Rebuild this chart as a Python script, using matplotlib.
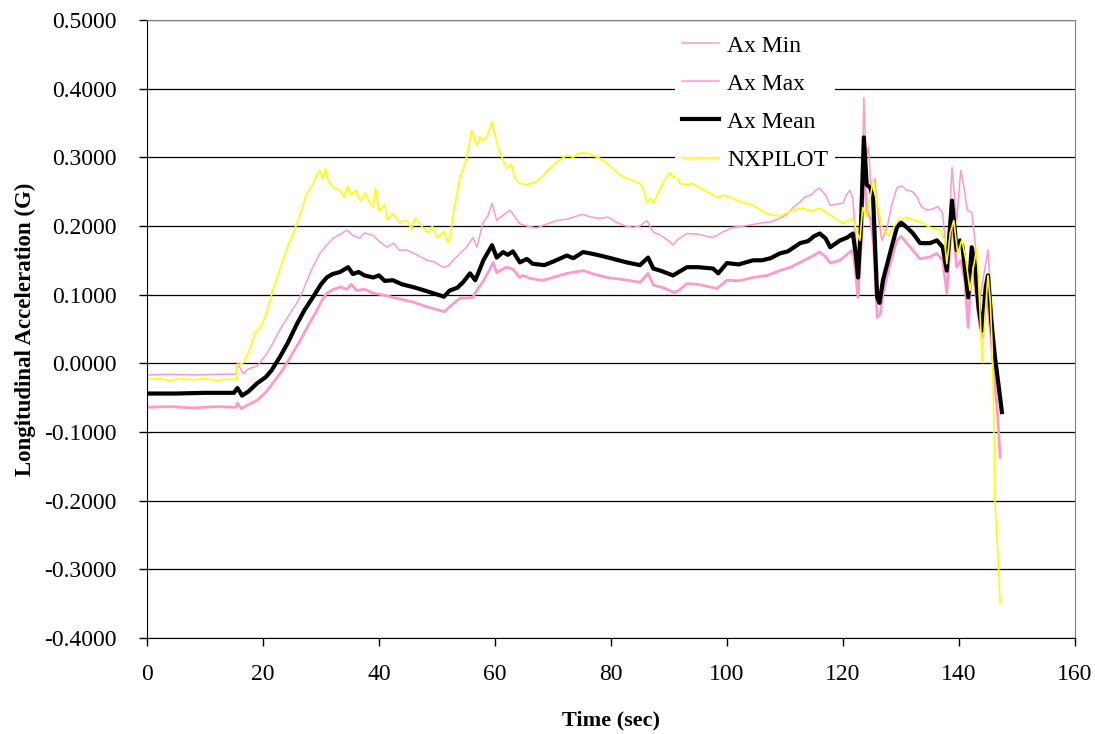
import matplotlib
matplotlib.use("Agg")
import matplotlib.pyplot as plt

plt.rcParams['font.family'] = ['Liberation Serif', 'DejaVu Serif']
plt.rcParams['axes.unicode_minus'] = False

# NXPILOT (yellow)
t_pilot = [0, 2, 4, 6, 8, 10, 12, 14, 15.4, 15.6, 16.5, 17.5, 18.6, 19.5, 20.5, 21.7, 23, 24.5, 25.9,
           27.6, 28.7, 29.3, 29.8, 30.3, 30.8, 31.3, 32, 33.3, 34, 34.6, 35.2, 36, 36.8, 37.6, 38.5,
           39, 39.4, 40, 41, 41.4, 42.5, 43.5, 44.8, 45.6, 46.3, 47.6, 48.5, 49.2, 50, 50.5, 51.2,
           51.9, 52.3, 52.8, 54, 55, 56, 56.9, 57.4, 57.9, 58.6, 59.5, 60.5, 61.3, 62, 62.8, 63.5,
           64.3, 65.5, 67.2, 68.5, 69.5, 71, 72.4, 73.5, 74.5, 75.9, 77, 78, 79.5, 81, 82.5, 83.8,
           85, 85.5, 86.2, 86.8, 87.3, 88.5, 89.5, 90.2, 90.8, 91.2, 91.9, 93, 94, 95.3, 96.5, 98.3,
           99.5, 101, 102.5, 104.5, 106.9, 109.1, 110.5, 111.4, 113, 114.5, 116, 117, 118.3, 120,
           120.8, 121.7, 122.3, 122.9, 123.4, 124.1, 125.2, 125.8, 126.7, 127.8, 128.5, 129.5, 131,
           133.3, 135, 136.7, 137.5, 137.9, 138.5, 139.1, 139.8, 140.5, 141.2, 141.9, 142.5, 143.1,
           143.6, 144, 144.5, 145, 145.4, 145.7, 146, 146.2, 146.7, 147.1]
nxpilot = [-0.024, -0.022, -0.025, -0.022, -0.024, -0.022, -0.025, -0.023, -0.024, -0.002, 0.000,
           0.015, 0.044, 0.052, 0.070, 0.106, 0.140, 0.175, 0.204, 0.248, 0.262, 0.275, 0.280,
           0.268, 0.283, 0.265, 0.257, 0.252, 0.242, 0.258, 0.245, 0.252, 0.236, 0.248, 0.232,
           0.227, 0.255, 0.222, 0.232, 0.210, 0.218, 0.205, 0.208, 0.196, 0.212, 0.197, 0.190,
           0.200, 0.183, 0.186, 0.192, 0.176, 0.185, 0.218, 0.271, 0.295, 0.339, 0.317, 0.330,
           0.325, 0.330, 0.351, 0.315, 0.298, 0.284, 0.290, 0.268, 0.262, 0.260, 0.265, 0.275,
           0.285, 0.295, 0.303, 0.300, 0.306, 0.306, 0.302, 0.299, 0.290, 0.278, 0.270, 0.266,
           0.262, 0.256, 0.234, 0.240, 0.233, 0.255, 0.270, 0.278, 0.270, 0.275, 0.262, 0.260,
           0.262, 0.256, 0.250, 0.242, 0.245, 0.240, 0.235, 0.230, 0.218, 0.214, 0.220, 0.223,
           0.226, 0.222, 0.226, 0.220, 0.213, 0.204, 0.208, 0.211, 0.195, 0.179, 0.227, 0.213,
           0.266, 0.237, 0.198, 0.186, 0.195, 0.208, 0.212, 0.206, 0.198, 0.194, 0.180, 0.145,
           0.190, 0.208, 0.160, 0.180, 0.150, 0.106, 0.140, 0.169, 0.080, 0.001, 0.070, 0.128,
           0.090, 0.029, -0.080, -0.200, -0.277, -0.350]

# Ax Mean (black)
t_mean = [0, 5, 10, 15, 15.6, 16.4, 17.5, 19, 20.5, 21.5, 22.9, 24.3, 25.9, 27.2, 28.6, 30, 31, 32,
          33.3, 34.7, 35.5, 36.5, 37.5, 39, 40, 41, 42.4, 44, 45.9, 47.5, 49, 50.5, 51.2, 52.2,
          53.5, 54.5, 55.7, 56.6, 57.3, 58, 59.5, 60.3, 61.4, 62.2, 63.1, 64.3, 65.5, 66.5, 67.5,
          68.5, 70, 72.4, 73.5, 75.2, 76.5, 78.1, 80, 82.7, 85, 86.4, 87.3, 88.5, 90.7, 91.5, 93.1,
          95, 97.6, 98.5, 100, 102, 104.5, 106, 107.5, 109.1, 110.5, 112.6, 114, 115, 116, 117,
          117.8, 119.5, 120.7, 121.7, 122.2, 122.6, 123.1, 123.6, 124.1, 124.7, 125.2, 125.9,
          126.3, 126.9, 128.1, 129.3, 130, 131, 132, 133.3, 135, 136.2, 137.2, 137.9, 138.8,
          139.6, 140.2, 140.6, 141.6, 142.2, 142.8, 143.4, 144, 144.6, 145, 145.6, 146.2, 146.8,
          147.4]
ax_mean = [-0.044, -0.044, -0.043, -0.043, -0.036, -0.047, -0.041, -0.029, -0.020, -0.010, 0.009,
           0.030, 0.058, 0.078, 0.096, 0.115, 0.125, 0.130, 0.133, 0.140, 0.130, 0.133, 0.128,
           0.125, 0.128, 0.120, 0.121, 0.115, 0.111, 0.107, 0.103, 0.099, 0.097, 0.106, 0.110,
           0.118, 0.131, 0.121, 0.135, 0.150, 0.172, 0.154, 0.162, 0.158, 0.163, 0.147, 0.152,
           0.145, 0.144, 0.143, 0.148, 0.157, 0.153, 0.162, 0.160, 0.157, 0.153, 0.147, 0.143,
           0.154, 0.138, 0.135, 0.128, 0.132, 0.140, 0.140, 0.138, 0.131, 0.146, 0.144, 0.150,
           0.150, 0.153, 0.160, 0.163, 0.175, 0.178, 0.185, 0.189, 0.182, 0.169, 0.179, 0.183,
           0.189, 0.160, 0.125, 0.200, 0.329, 0.260, 0.256, 0.240, 0.096, 0.088, 0.121, 0.160,
           0.198, 0.205, 0.198, 0.190, 0.175, 0.175, 0.179, 0.169, 0.135, 0.237, 0.165, 0.179,
           0.170, 0.096, 0.169, 0.140, 0.080, 0.048, 0.110, 0.128, 0.060, 0.009, -0.030, -0.071]

# Ax Max (upper pink)
t_max = [0, 4, 8, 12, 15.4, 15.6, 16.6, 17.5, 19, 20.5, 21.7, 23, 24.7, 26, 26.9, 28.3, 29.8, 31,
         32.1, 33.3, 34.5, 35.5, 36.7, 37.5, 39, 40, 41.4, 42.5, 43.5, 44.8, 46.5, 48.3, 49.5, 51,
         52, 53, 54, 55, 56.2, 56.9, 57.9, 58.8, 59.5, 60.3, 61.3, 62.6, 63.3, 64.3, 65.5, 67.2,
         69, 70.7, 72.5, 75, 76.5, 78.1, 79.5, 81, 82.5, 83.8, 85, 86.2, 87.3, 88.5, 90, 90.7,
         91.5, 93.1, 95, 97.6, 99, 101, 103, 105.7, 107.5, 109.1, 110.5, 111.4, 112.5, 113.4,
         114.5, 115.3, 116, 117, 117.8, 119, 120, 120.6, 121.2, 121.7, 122.2, 122.6, 123.2, 123.6,
         124, 124.4, 124.8, 125.5, 126, 126.7, 127.6, 128.4, 129.3, 130.2, 131, 132, 132.8, 133.5,
         134.5, 135.5, 136.4, 137.2, 137.9, 138.3, 138.8, 139.6, 140.3, 140.8, 141.4, 142.2,
         142.8, 143.6, 144.3, 145, 145.7, 146.5, 147.1]
ax_max = [-0.017, -0.016, -0.017, -0.016, -0.016, 0.000, -0.015, -0.008, -0.004, 0.012, 0.029,
          0.050, 0.073, 0.090, 0.106, 0.135, 0.160, 0.172, 0.182, 0.188, 0.194, 0.186, 0.182,
          0.190, 0.186, 0.178, 0.169, 0.175, 0.165, 0.165, 0.158, 0.150, 0.148, 0.140, 0.142,
          0.152, 0.160, 0.168, 0.183, 0.169, 0.204, 0.215, 0.233, 0.208, 0.215, 0.223, 0.215,
          0.203, 0.200, 0.197, 0.203, 0.208, 0.210, 0.217, 0.213, 0.211, 0.213, 0.205, 0.200,
          0.198, 0.200, 0.208, 0.191, 0.187, 0.178, 0.172, 0.180, 0.189, 0.188, 0.183, 0.190,
          0.198, 0.200, 0.204, 0.206, 0.211, 0.218, 0.227, 0.234, 0.242, 0.245, 0.252, 0.255,
          0.245, 0.230, 0.232, 0.233, 0.245, 0.252, 0.240, 0.180, 0.096, 0.200, 0.387, 0.300,
          0.315, 0.260, 0.269, 0.220, 0.179, 0.198, 0.230, 0.256, 0.258, 0.252, 0.250, 0.242,
          0.228, 0.223, 0.225, 0.228, 0.218, 0.150, 0.200, 0.285, 0.208, 0.281, 0.260, 0.223,
          0.220, 0.175, 0.092, 0.130, 0.165, 0.077, -0.020, -0.060]

# Ax Min (lower pink)
t_min = [0, 4, 8, 12, 15.4, 15.6, 16.3, 17.5, 19, 20.5, 21.7, 23, 24.1, 25.2, 26.4, 28, 29.3, 30.2,
         31, 32, 33.3, 34.5, 35.2, 36.2, 37.5, 39, 40.5, 42.4, 44, 45.9, 48, 50.5, 51.2, 52.2, 53,
         54, 55, 56.2, 57, 58, 59, 59.7, 60.3, 60.9, 62, 63.1, 64.3, 64.8, 66, 67.2, 68.3, 70,
         72.4, 75.2, 77, 79.3, 82, 85, 86.4, 87.3, 89, 91, 92, 93.1, 95, 98.3, 100, 102, 104.5,
         107, 109.1, 111, 112.6, 114.5, 116, 117, 117.8, 119.5, 121.2, 121.7, 122.2, 122.6,
         123.3, 123.6, 124.1, 124.8, 125.3, 125.9, 126.4, 126.9, 128, 129.3, 130, 131, 132,
         133.3, 135, 136.2, 137.2, 137.9, 138.8, 139.6, 140.3, 141, 141.6, 142.2, 142.8, 143.5,
         144, 144.8, 145.5, 146.2, 146.7, 147.1]
ax_min = [-0.064, -0.063, -0.065, -0.063, -0.064, -0.058, -0.066, -0.060, -0.054, -0.042, -0.029,
          -0.014, 0.000, 0.016, 0.033, 0.058, 0.077, 0.092, 0.102, 0.107, 0.111, 0.108, 0.115,
          0.106, 0.108, 0.102, 0.100, 0.096, 0.093, 0.089, 0.083, 0.077, 0.075, 0.082, 0.088,
          0.095, 0.095, 0.096, 0.108, 0.120, 0.135, 0.147, 0.132, 0.135, 0.140, 0.137, 0.125,
          0.128, 0.124, 0.122, 0.121, 0.125, 0.131, 0.135, 0.130, 0.125, 0.122, 0.118, 0.131,
          0.114, 0.110, 0.103, 0.108, 0.116, 0.115, 0.109, 0.121, 0.120, 0.125, 0.128, 0.135,
          0.140, 0.147, 0.155, 0.162, 0.155, 0.146, 0.150, 0.162, 0.165, 0.130, 0.096, 0.194,
          0.291, 0.223, 0.210, 0.170, 0.067, 0.070, 0.102, 0.140, 0.179, 0.185, 0.175, 0.165,
          0.152, 0.155, 0.160, 0.150, 0.102, 0.213, 0.140, 0.150, 0.120, 0.052, 0.146, 0.110,
          0.060, 0.038, 0.106, 0.040, -0.029, -0.080, -0.137]

y_ticks = [-0.4, -0.3, -0.2, -0.1, 0.0, 0.1, 0.2, 0.3, 0.4, 0.5]
x_ticks = [0, 20, 40, 60, 80, 100, 120, 140, 160]

pink = '#FF99CC'

fig = plt.figure(figsize=(10.95, 7.34), dpi=100)
ax = fig.add_axes([0.1342, 0.1308, 0.8475, 0.842])

ax.plot(t_min, ax_min, color=pink, lw=2.0, label='Ax Min')
ax.plot(t_max, ax_max, color=pink, lw=1.1, label='Ax Max')
ax.plot(t_mean, ax_mean, color='black', lw=3.0, label='Ax Mean')
ax.plot(t_pilot, nxpilot, color='#FFFF00', lw=1.2, label='NXPILOT')

ax.set_xlim(0, 160)
ax.set_ylim(-0.4, 0.5)
ax.set_xticks(x_ticks)
ax.set_yticks(y_ticks)
ax.set_yticklabels([f"{v:.4f}" for v in y_ticks])
ax.yaxis.grid(True, color='black', lw=0.9)
ax.set_axisbelow(True)
ax.tick_params(direction='out', length=6, width=1, labelsize=17)
ax.tick_params(axis='y', pad=16)
ax.tick_params(axis='x', pad=13)

for side in ['top', 'right']:
    ax.spines[side].set_color('#808080')
for side in ['left', 'bottom']:
    ax.spines[side].set_color('black')

ax.set_xlabel('Time (sec)', fontsize=16, fontweight='bold', labelpad=18)
ax.set_ylabel('Longitudinal Acceleration (G)', fontsize=16.5, fontweight='bold', labelpad=6)

leg = ax.legend(loc='upper left', bbox_to_anchor=(0.569, 0.987), fontsize=17, frameon=True,
                facecolor='white', edgecolor='white', framealpha=1, fancybox=False,
                handlelength=1.55, handletextpad=0.35, labelspacing=0.7, borderpad=0.3,
                borderaxespad=0)
leg.get_frame().set_linewidth(0)
for line in leg.get_lines():
    if line.get_label() == 'Ax Min':
        line.set_linewidth(1.1)

fig.savefig('out.png', dpi=100)
